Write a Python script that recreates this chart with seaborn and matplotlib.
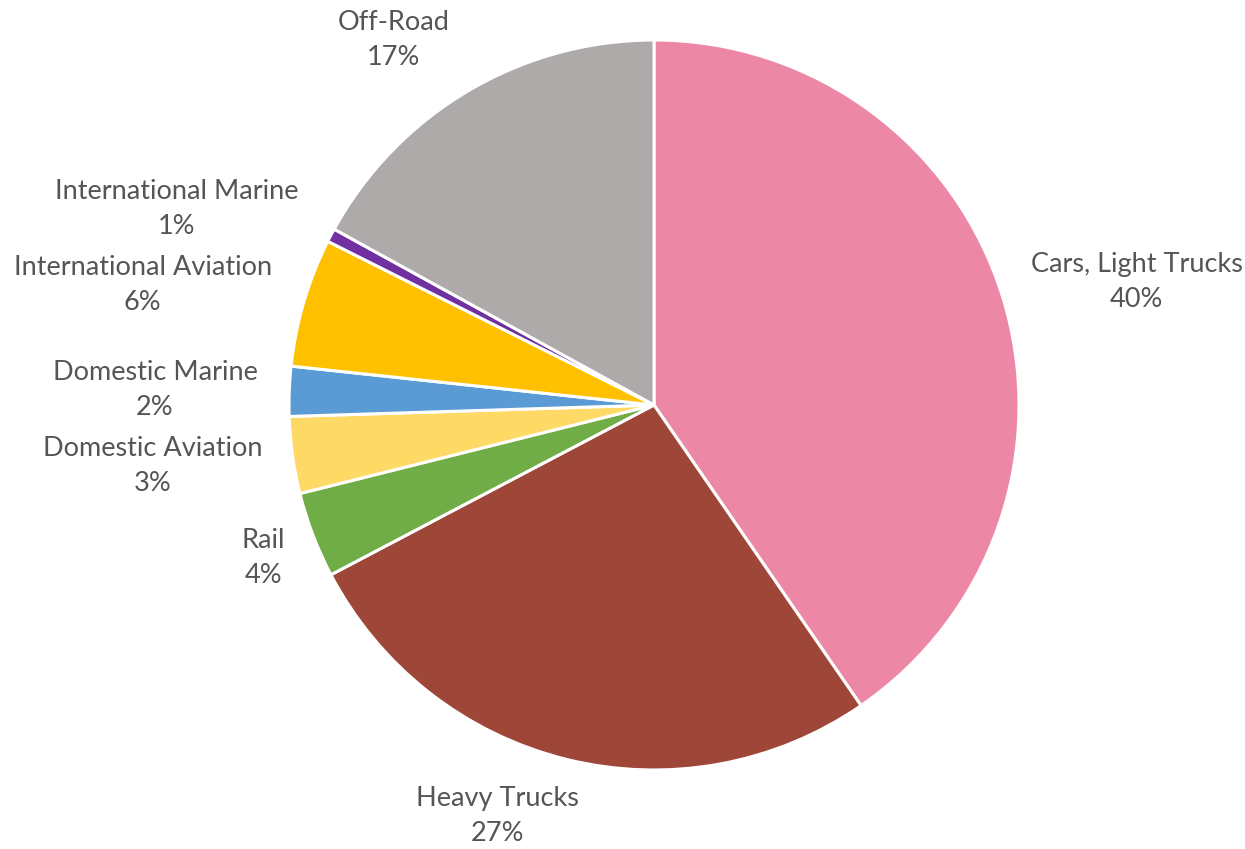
import matplotlib
matplotlib.use("Agg")
import matplotlib.pyplot as plt
import seaborn as sns

# Transportation energy use by mode (share of total, %)
categories = ["Cars, Light Trucks", "Heavy Trucks", "Rail", "Domestic Aviation",
              "Domestic Marine", "International Aviation", "International Marine", "Off-Road"]
shares = [40.4, 26.9, 3.8, 3.4, 2.2, 5.7, 0.6, 17.0]
colors = ["#EC87A6", "#9E4638", "#70AD47", "#FFD966",
          "#5B9BD5", "#FFC000", "#7030A0", "#AEAAAA"]

sns.set_theme(style="white")
plt.rcParams["font.family"] = ["Lato", "DejaVu Sans"]

W, H, DPI = 1245, 849, 100
fig = plt.figure(figsize=(W / DPI, H / DPI), dpi=DPI)
ax = fig.add_axes([0, 0, 1, 1])

palette = sns.color_palette(colors)
wedges, _ = ax.pie(shares, colors=palette, startangle=90, counterclock=False,
                   radius=1.0, center=(0, 0),
                   wedgeprops=dict(edgecolor="white", linewidth=2.2))

# pie centre sits at (654, 405) px with a 365 px radius
cx, cy, r = 654, 405, 365
ax.set_xlim(-cx / r, (W - cx) / r)
ax.set_ylim(-(H - cy) / r, cy / r)
ax.set_aspect("auto")
ax.axis("off")

# label anchors (data units, pie radius = 1)
label_xy = [(1.323, 0.338), (-0.429, -1.126), (-1.071, -0.419), (-1.374, -0.167),
            (-1.367, 0.041), (-1.401, 0.329), (-1.308, 0.537), (-0.714, 1.001)]

for name, val, (lx, ly) in zip(categories, shares, label_xy):
    ax.text(lx, ly, f"{name}\n{val:.0f}%", ha="center", va="center",
            multialignment="center", fontsize=19.5, color="#555555",
            linespacing=1.5)

fig.savefig("out.png", dpi=DPI)
